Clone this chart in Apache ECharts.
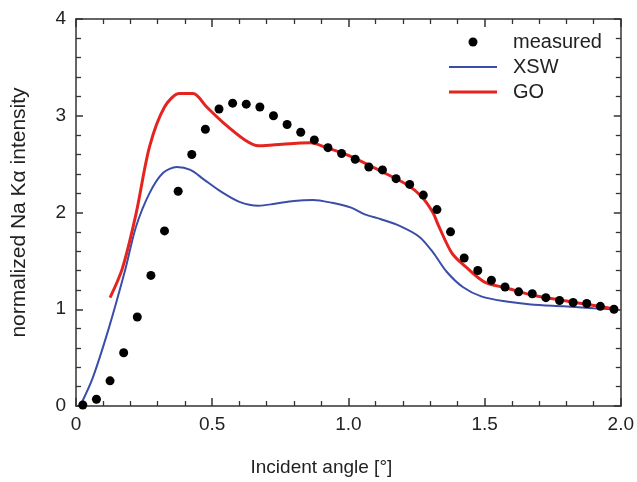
<!DOCTYPE html>
<html>
<head>
<meta charset="utf-8">
<script src="https://cdn.jsdelivr.net/npm/echarts@6/dist/echarts.min.js"></script>
<style>
  html, body { margin: 0; padding: 0; background: #fff; }
  #chart { width: 637px; height: 482px; }
</style>
</head>
<body>
<div id="chart"></div>
<script>
// measured Na K-alpha intensity (dots)
var measuredX = [0.025, 0.075, 0.125, 0.175, 0.225, 0.275, 0.325, 0.375, 0.425, 0.475,
  0.525, 0.575, 0.625, 0.675, 0.725, 0.775, 0.825, 0.875, 0.925, 0.975,
  1.025, 1.075, 1.125, 1.175, 1.225, 1.275, 1.325, 1.375, 1.425, 1.475,
  1.525, 1.575, 1.625, 1.675, 1.725, 1.775, 1.825, 1.875, 1.925, 1.975];
var measuredY = [0.01, 0.07, 0.26, 0.55, 0.92, 1.35, 1.81, 2.22, 2.60, 2.86,
  3.07, 3.13, 3.12, 3.09, 3.00, 2.91, 2.83, 2.75, 2.67, 2.61,
  2.55, 2.47, 2.44, 2.35, 2.29, 2.18, 2.03, 1.80, 1.53, 1.40,
  1.30, 1.23, 1.18, 1.16, 1.12, 1.09, 1.07, 1.06, 1.03, 1.00];

// XSW calculation (blue)
var xswX = [0.015, 0.06, 0.12, 0.18, 0.22, 0.27, 0.32, 0.37, 0.42, 0.47,
  0.53, 0.60, 0.67, 0.73, 0.80, 0.87, 0.94, 1.01, 1.06, 1.12,
  1.19, 1.26, 1.31, 1.36, 1.42, 1.49, 1.58, 1.67, 1.79, 1.90, 1.98];
var xswY = [0.0, 0.28, 0.80, 1.40, 1.85, 2.20, 2.41, 2.47, 2.44, 2.34,
  2.22, 2.11, 2.07, 2.09, 2.12, 2.13, 2.10, 2.05, 1.98, 1.93,
  1.86, 1.75, 1.59, 1.39, 1.23, 1.13, 1.08, 1.05, 1.03, 1.01, 1.00];

// GO calculation (red)
var goX = [0.125, 0.17, 0.22, 0.27, 0.325, 0.38, 0.43, 0.48, 0.54, 0.62,
  0.67, 0.73, 0.86, 0.92, 1.00, 1.11, 1.22, 1.27, 1.31, 1.33,
  1.38, 1.43, 1.50, 1.58, 1.67, 1.79, 1.92, 1.98];
var goY = [1.12, 1.42, 1.98, 2.68, 3.09, 3.23, 3.23, 3.09, 2.93, 2.75,
  2.69, 2.70, 2.72, 2.67, 2.59, 2.44, 2.28, 2.16, 2.00, 1.87,
  1.58, 1.44, 1.28, 1.22, 1.15, 1.09, 1.03, 1.00];

var xTickLabels = ['0', '0.5', '1.0', '1.5', '2.0'];
var yTickLabels = ['0', '1', '2', '3', '4'];

function pairs(xs, ys) {
  return xs.map(function (x, i) { return [x, ys[i]]; });
}

var chart = echarts.init(document.getElementById('chart'));
var font = 'Liberation Sans, Arial, sans-serif';
var axisColor = '#333';

function xAxisOpt(pos, labels) {
  return {
    type: 'value', position: pos, min: 0, max: 2, interval: 0.5,
    axisLine: { show: true, onZero: false, lineStyle: { color: axisColor, width: 1.5 } },
    axisTick: { show: true, inside: true, length: 8, lineStyle: { color: axisColor, width: 1.5 } },
    minorTick: { show: true, splitNumber: 5, length: 5, lineStyle: { color: axisColor, width: 1.3 } },
    splitLine: { show: false },
    axisLabel: {
      show: labels, margin: 9, fontSize: 19, color: '#222', fontFamily: font,
      formatter: function (v) { return xTickLabels[Math.round(v / 0.5)]; }
    }
  };
}
function yAxisOpt(pos, labels) {
  return {
    type: 'value', position: pos, min: 0, max: 4, interval: 1,
    axisLine: { show: true, onZero: false, lineStyle: { color: axisColor, width: 1.5 } },
    axisTick: { show: true, inside: true, length: 7, lineStyle: { color: axisColor, width: 1.5 } },
    minorTick: { show: true, splitNumber: 5, length: 5, lineStyle: { color: axisColor, width: 1.3 } },
    splitLine: { show: false },
    axisLabel: {
      show: labels, margin: 10, fontSize: 19, color: '#222', fontFamily: font,
      formatter: function (v) { return yTickLabels[Math.round(v)]; }
    }
  };
}

var xBottom = xAxisOpt('bottom', true);
xBottom.name = 'Incident angle [°]';
xBottom.nameLocation = 'middle';
xBottom.nameGap = 52;
xBottom.nameTextStyle = { fontSize: 19, color: '#222', fontFamily: font, padding: [0, 54, 0, 0] };

var yLeft = yAxisOpt('left', true);
yLeft.name = 'normalized Na Kα intensity';
yLeft.nameLocation = 'middle';
yLeft.nameGap = 46;
yLeft.nameTextStyle = { fontSize: 21, color: '#222', fontFamily: font };

chart.setOption({
  animation: false,
  grid: { left: 76, right: 14, top: 19, bottom: 76 },
  legend: {
    orient: 'vertical', left: 449, top: 32, padding: 0,
    itemWidth: 48, itemHeight: 9, itemGap: 5, symbolKeepAspect: true,
    textStyle: { fontSize: 20, color: '#222', fontFamily: font, lineHeight: 18, padding: [0, 0, 0, 11] },
    data: [
      { name: 'measured', icon: 'circle' },
      { name: 'XSW', icon: 'path://M0,0L48,0L48,2L0,2Z' },
      { name: 'GO', icon: 'path://M0,0L48,0L48,3.2L0,3.2Z' }
    ]
  },
  xAxis: [xBottom, xAxisOpt('top', false)],
  yAxis: [yLeft, yAxisOpt('right', false)],
  series: [
    {
      name: 'XSW', type: 'line', xAxisIndex: 0, yAxisIndex: 0,
      data: pairs(xswX, xswY), symbol: 'none', smooth: 0.3,
      lineStyle: { color: '#3a4ea8', width: 2 }, itemStyle: { color: '#3a4ea8' }, z: 2
    },
    {
      name: 'GO', type: 'line', xAxisIndex: 0, yAxisIndex: 0,
      data: pairs(goX, goY), symbol: 'none', smooth: 0.3,
      lineStyle: { color: '#e52420', width: 3 }, itemStyle: { color: '#e52420' }, z: 3
    },
    {
      name: 'measured', type: 'scatter', xAxisIndex: 0, yAxisIndex: 0,
      data: pairs(measuredX, measuredY), symbolSize: 9,
      itemStyle: { color: '#000', opacity: 1 }, z: 4
    }
  ]
});
</script>
</body>
</html>
